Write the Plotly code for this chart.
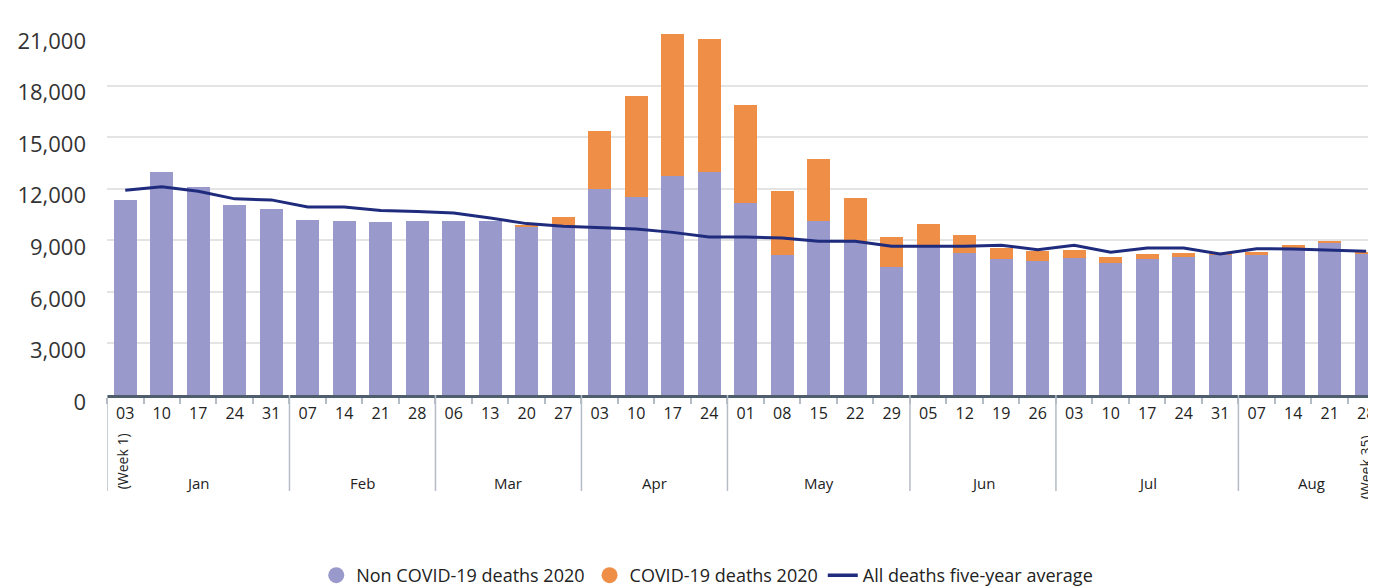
import plotly.graph_objects as go

# Weekly deaths 2020 (week ending dates)
days = ["03", "10", "17", "24", "31",
        "07", "14", "21", "28",
        "06", "13", "20", "27",
        "03", "10", "17", "24",
        "01", "08", "15", "22", "29",
        "05", "12", "19", "26",
        "03", "10", "17", "24", "31",
        "07", "14", "21", "28"]
week_month = (["Jan"] * 5 + ["Feb"] * 4 + ["Mar"] * 4 + ["Apr"] * 4 +
              ["May"] * 5 + ["Jun"] * 4 + ["Jul"] * 5 + ["Aug"] * 4)

non_covid = [11330, 12980, 12110, 11040, 10840, 10200, 10150, 10070, 10100,
             10150, 10100, 9750, 9810, 12010, 11540, 12730, 12980, 11180,
             8160, 10140, 8900, 7420, 8600, 8260, 7910, 7770, 7970, 7680,
             7910, 8030, 8160, 8160, 8570, 8840, 8240]
covid = [0, 0, 0, 0, 0, 0, 0, 0, 0, 0, 0, 160, 550, 3340, 5870, 8270, 7720,
         5710, 3690, 3560, 2550, 1750, 1370, 1070, 650, 590, 480, 350, 270,
         230, 40, 140, 150, 140, 80]
five_year_avg = [11910, 12110, 11850, 11410, 11350, 10940, 10940, 10730,
                 10670, 10590, 10300, 9970, 9810, 9740, 9660, 9460, 9190,
                 9190, 9130, 8940, 8940, 8650, 8650, 8650, 8710, 8450, 8710,
                 8300, 8550, 8550, 8200, 8510, 8490, 8420, 8360]

y_ticks = [0, 3000, 6000, 9000, 12000, 15000, 18000, 21000]

PURPLE = "#9999cb"
ORANGE = "#ef8e47"
NAVY = "#1f2b7d"
FONT = "Open Sans"

x = list(range(len(days)))

fig = go.Figure()
fig.add_trace(go.Bar(x=x, y=non_covid, marker=dict(color=PURPLE, line_width=0),
                     showlegend=False))
fig.add_trace(go.Bar(x=x, y=covid, marker=dict(color=ORANGE, line_width=0),
                     showlegend=False))
fig.add_trace(go.Scatter(x=x, y=five_year_avg, mode="lines",
                         line=dict(color=NAVY, width=3), showlegend=False))

# legend-only entries so the bar series get round swatches
fig.add_trace(go.Scatter(x=[None], y=[None], mode="markers", name="Non COVID-19 deaths 2020",
                         marker=dict(color=PURPLE, size=20, symbol="circle")))
fig.add_trace(go.Scatter(x=[None], y=[None], mode="markers", name="COVID-19 deaths 2020",
                         marker=dict(color=ORANGE, size=20, symbol="circle")))
fig.add_trace(go.Scatter(x=[None], y=[None], mode="lines", name="All deaths five-year average",
                         line=dict(color=NAVY, width=3.5)))

# month group dividers and labels under the axis
shapes = []
annotations = []
start = 0
months_seen = []
for m in week_month:
    if m not in months_seen:
        months_seen.append(m)
for m in months_seen:
    n = week_month.count(m)
    shapes.append(dict(type="line", xref="x", yref="paper", x0=start - 0.5, x1=start - 0.5,
                       y0=0, y1=-0.266, line=dict(color="#b4bcc6", width=1.5)))
    annotations.append(dict(x=start + (n - 1) / 2, y=-0.245, xref="x", yref="paper",
                            yanchor="middle", text=m, showarrow=False,
                            font=dict(size=15, color="#222")))
    start += n
shapes.append(dict(type="line", xref="x", yref="paper", x0=start - 0.5, x1=start - 0.5,
                   y0=0, y1=-0.266, line=dict(color="#b4bcc6", width=1.5)))

annotations.append(dict(x=0, y=-0.183, xref="x", yref="paper", text="(Week 1)",
                        textangle=-90, showarrow=False, xshift=-3,
                        xanchor="center", yanchor="middle",
                        font=dict(size=14, color="#222")))
annotations.append(dict(x=len(days) - 1, y=-0.2, xref="x", yref="paper", text="(Week 35)",
                        textangle=-90, showarrow=False, xshift=-1,
                        xanchor="center", yanchor="middle",
                        font=dict(size=14, color="#222")))

# page body adds an 8px offset, so the figure is 8px smaller than the window
fig.update_layout(
    width=1368, height=579,
    margin=dict(l=99, r=0, t=26, b=192, autoexpand=False),
    barmode="stack", bargap=0.37,
    plot_bgcolor="white", paper_bgcolor="white",
    font=dict(family=FONT, color="#222"),
    shapes=shapes, annotations=annotations,
    legend=dict(orientation="h", x=0.473, xanchor="center", y=-0.5, yanchor="middle",
                font=dict(size=18, color="#222"), traceorder="normal"),
)
fig.update_xaxes(
    range=[-0.5, 34.27], tickmode="array", tickvals=x, ticktext=days,
    ticks="", showgrid=False, zeroline=False, automargin=False,
    showline=True, linecolor="#4f5d6c", linewidth=2.5,
    tickfont=dict(size=16, color="#222"), ticklabelstandoff=2,
    minor=dict(ticks="outside", ticklen=6, tickwidth=1.5, tickcolor="#b4bcc6",
               tickmode="linear", tick0=0.5, dtick=1, showgrid=False),
)
fig.update_yaxes(
    range=[0, 21000], tickmode="array", tickvals=y_ticks,
    ticktext=[f"{v:,}" for v in y_ticks], automargin=False,
    showgrid=True, gridcolor="#e4e4e4", gridwidth=1.5, zeroline=False,
    showline=False, ticks="",
    tickfont=dict(size=22, color="#333"), ticklabelstandoff=20, ticklabelshift=7,
)

fig.write_html("out.html")
